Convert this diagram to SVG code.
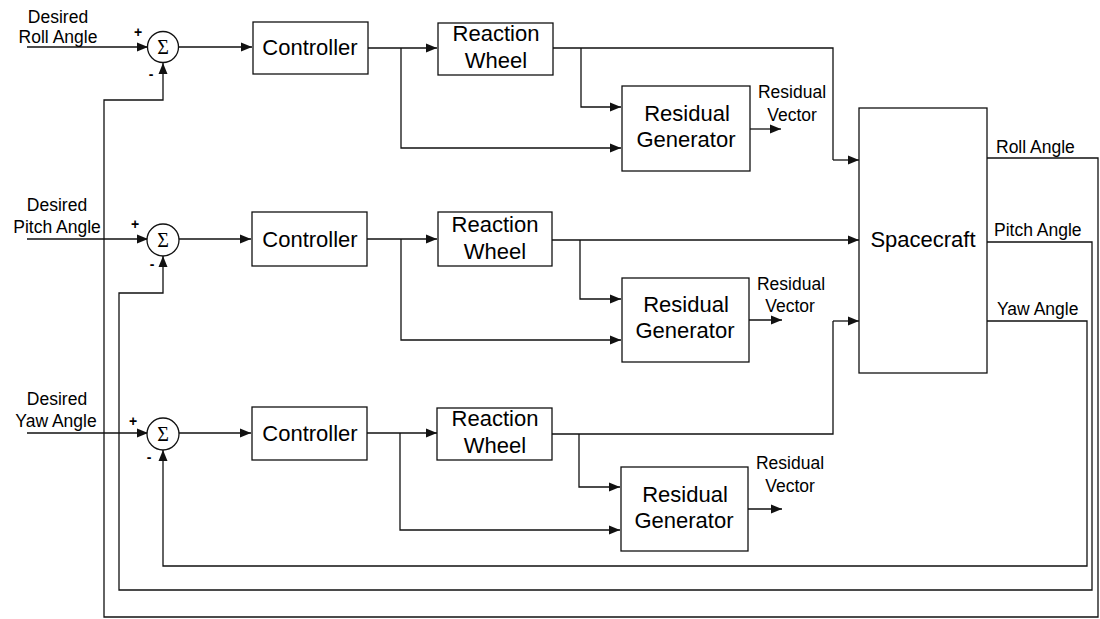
<svg xmlns="http://www.w3.org/2000/svg" width="1100" height="619" viewBox="0 0 1100 619">
<defs>
<marker id="ah" markerWidth="12" markerHeight="10" refX="11" refY="5" orient="auto" markerUnits="userSpaceOnUse">
<path d="M0,0.5 L11,5 L0,9.5 Z" fill="#111"/>
</marker>
<style>
.box{fill:#fff;stroke:#111;stroke-width:1.3}
.ln{fill:none;stroke:#111;stroke-width:1.3}
.ar{marker-end:url(#ah)}
.big{font-family:"Liberation Sans",Arial,sans-serif;font-size:22px;fill:#000;text-anchor:middle}
.sm{font-family:"Liberation Sans",Arial,sans-serif;font-size:17.5px;fill:#000;text-anchor:middle}
.lab{font-family:"Liberation Sans",Arial,sans-serif;font-size:17.5px;fill:#000}
.sig{font-family:"Liberation Serif","Times New Roman",serif;font-size:20px;fill:#000;text-anchor:middle}
.pm{font-family:"Liberation Sans",Arial,sans-serif;font-size:14px;font-weight:bold;fill:#000;text-anchor:middle}
</style>
</defs>
<rect width="1100" height="619" fill="#fff"/>

<g id="connectors">
<!-- row 1 -->
<path class="ln ar" d="M27,47 H148"/>
<path class="ln ar" d="M179,47 H252"/>
<path class="ln ar" d="M368,48 H437"/>
<path class="ln ar" d="M401,48 V148 H621"/>
<path class="ln" d="M553,48 H833 V160"/>
<path class="ln ar" d="M833,160 H859"/>
<path class="ln ar" d="M581,48 V107 H621"/>
<path class="ln ar" d="M750,129 H781"/>
<!-- row 2 -->
<path class="ln ar" d="M27,239 H148"/>
<path class="ln ar" d="M179,239 H251"/>
<path class="ln ar" d="M367,239 H437"/>
<path class="ln ar" d="M401,239 V340 H621"/>
<path class="ln ar" d="M552,240 H859"/>
<path class="ln ar" d="M580,240 V299 H621"/>
<path class="ln ar" d="M749,320 H782"/>
<!-- row 3 -->
<path class="ln ar" d="M27,433 H148"/>
<path class="ln ar" d="M179,433 H251"/>
<path class="ln ar" d="M367,433 H437"/>
<path class="ln ar" d="M400,433 V530 H620"/>
<path class="ln" d="M552,434 H833 V321"/>
<path class="ln ar" d="M833,321 H859"/>
<path class="ln ar" d="M579,434 V487 H620"/>
<path class="ln ar" d="M748,509 H782"/>
<!-- feedback -->
<path class="ln ar" d="M987,158 H1098 V617 H104 V100 H163 V63"/>
<path class="ln ar" d="M987,242 H1092 V590 H119 V293 H163 V256"/>
<path class="ln ar" d="M987,321 H1087 V566 H163 V450"/>
</g>

<g id="inputs">
<text class="sm" x="58" y="23">Desired</text>
<text class="sm" x="58" y="43">Roll Angle</text>
<text class="sm" x="57" y="211">Desired</text>
<text class="sm" x="57" y="233">Pitch Angle</text>
<text class="sm" x="57" y="405">Desired</text>
<text class="sm" x="56" y="427">Yaw Angle</text>
</g>

<g id="sum1">
<circle cx="163" cy="47" r="15.5" class="box"/>
<text class="sig" x="163" y="54">Σ</text>
<text class="pm" x="138" y="37">+</text>
<text class="pm" x="151" y="79">-</text>
</g>
<g id="sum2">
<circle cx="163" cy="240" r="16" class="box"/>
<text class="sig" x="163" y="247">Σ</text>
<text class="pm" x="135" y="229">+</text>
<text class="pm" x="152" y="269">-</text>
</g>
<g id="sum3">
<circle cx="163" cy="434" r="16" class="box"/>
<text class="sig" x="163" y="441">Σ</text>
<text class="pm" x="133" y="426">+</text>
<text class="pm" x="149" y="462">-</text>
</g>

<g id="controller1">
<rect class="box" x="253" y="22" width="115" height="52"/>
<text class="big" x="310" y="55">Controller</text>
</g>
<g id="controller2">
<rect class="box" x="252" y="212" width="115" height="54"/>
<text class="big" x="310" y="247">Controller</text>
</g>
<g id="controller3">
<rect class="box" x="252" y="407" width="115" height="53"/>
<text class="big" x="310" y="441">Controller</text>
</g>

<g id="wheel1">
<rect class="box" x="438" y="23" width="115" height="52"/>
<text class="big" x="496" y="41">Reaction</text>
<text class="big" x="496" y="68">Wheel</text>
</g>
<g id="wheel2">
<rect class="box" x="438" y="212" width="114" height="54"/>
<text class="big" x="495" y="232">Reaction</text>
<text class="big" x="495" y="259">Wheel</text>
</g>
<g id="wheel3">
<rect class="box" x="437" y="408" width="115" height="52"/>
<text class="big" x="495" y="426">Reaction</text>
<text class="big" x="495" y="453">Wheel</text>
</g>

<g id="resgen1">
<rect class="box" x="622" y="86" width="128" height="85"/>
<text class="big" x="687" y="121">Residual</text>
<text class="big" x="686" y="147">Generator</text>
<text class="sm" x="792" y="98">Residual</text>
<text class="sm" x="792" y="121">Vector</text>
</g>
<g id="resgen2">
<rect class="box" x="622" y="278" width="127" height="84"/>
<text class="big" x="686" y="312">Residual</text>
<text class="big" x="685" y="338">Generator</text>
<text class="sm" x="791" y="290">Residual</text>
<text class="sm" x="790" y="312">Vector</text>
</g>
<g id="resgen3">
<rect class="box" x="621" y="467" width="127" height="84"/>
<text class="big" x="685" y="502">Residual</text>
<text class="big" x="684" y="528">Generator</text>
<text class="sm" x="790" y="469">Residual</text>
<text class="sm" x="790" y="492">Vector</text>
</g>

<g id="spacecraft">
<rect class="box" x="859" y="108" width="128" height="265"/>
<text class="big" x="923" y="247">Spacecraft</text>
</g>

<g id="outputs">
<text class="lab" x="996" y="153">Roll Angle</text>
<text class="lab" x="994" y="236">Pitch Angle</text>
<text class="lab" x="997" y="315">Yaw Angle</text>
</g>
</svg>
